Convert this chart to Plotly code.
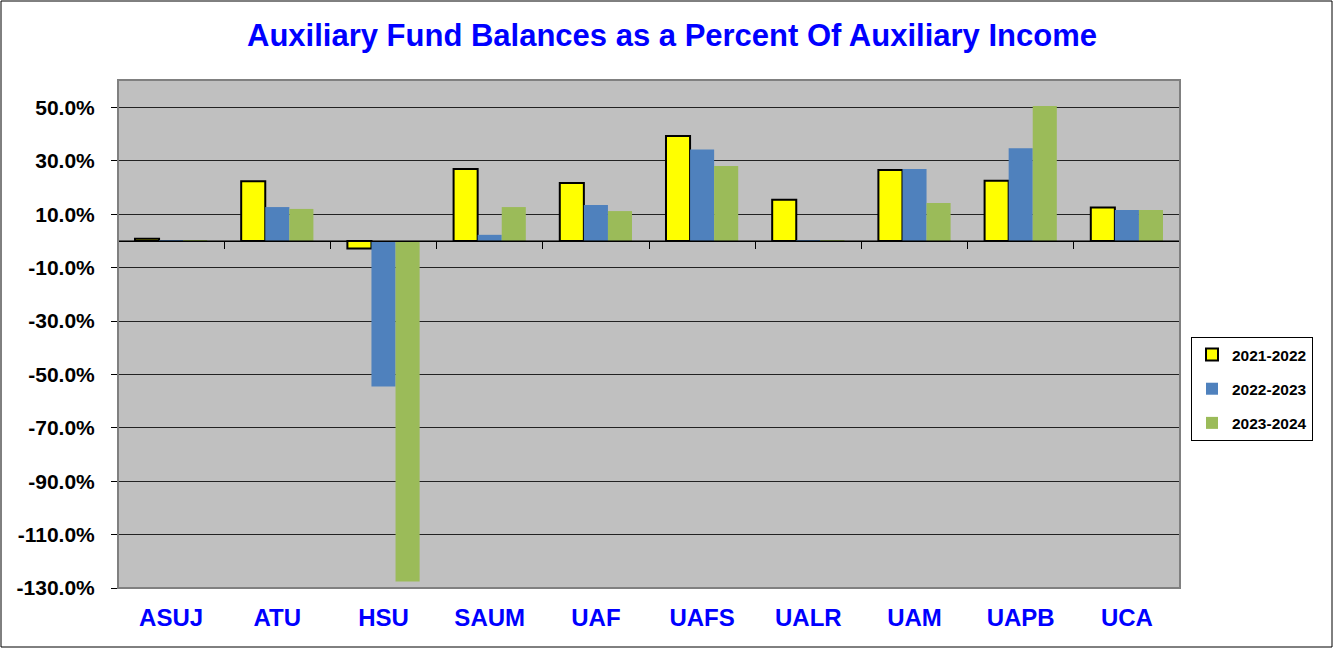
import plotly.graph_objects as go

categories = ["ASUJ", "ATU", "HSU", "SAUM", "UAF", "UAFS", "UALR", "UAM", "UAPB", "UCA"]
fy2122 = [0.8, 22.4, -2.8, 27.0, 21.7, 39.3, 15.4, 26.6, 22.6, 12.5]
fy2223 = [0.3, 12.7, -54.5, 2.3, 13.5, 34.3, 0.3, 27.0, 34.7, 11.6]
fy2324 = [0.1, 12.0, -127.6, 12.7, 11.2, 28.1, 0.2, 14.2, 50.6, 11.6]
series_names = ["2021-2022", "2022-2023", "2023-2024"]
tick_values = [50, 30, 10, -10, -30, -50, -70, -90, -110, -130]
tick_labels = [f"{v:.1f}%" for v in tick_values]

FONT = "Arial, 'Liberation Sans', sans-serif"
W, H = 1337, 648
L, R, T, B = 118, 157, 80, 60
pw, ph = W - L - R, H - T - B

fig = go.Figure()
fig.add_bar(x=categories, y=fy2122, name=series_names[0], legendgroup="a",
            marker=dict(color="#FFFF00", line=dict(color="black", width=2)))
fig.add_bar(x=categories, y=fy2223, name=series_names[1], legendgroup="b",
            marker=dict(color="#4F81BD", line=dict(width=0)))
fig.add_bar(x=categories, y=fy2324, name=series_names[2], legendgroup="c",
            marker=dict(color="#9BBB59", line=dict(width=0)))

# helper trace for the category axis crossing at zero
fig.add_scatter(x=[-0.5, len(categories) - 0.5], y=[0, 0], xaxis="x2", mode="lines",
                line=dict(color="black", width=1), showlegend=False, hoverinfo="skip")

ymin, ymax = -130, 60.3
fig.update_layout(
    width=W, height=H,
    margin=dict(l=L, r=R, t=T, b=B),
    paper_bgcolor="white",
    plot_bgcolor="#C0C0C0",
    barmode="group",
    bargap=0.32,
    bargroupgap=0,
    title=dict(text="<b>Auxiliary Fund Balances as a Percent Of Auxiliary Income</b>",
               x=(672 - L) / pw, xref="paper", xanchor="center", y=1 - 35 / H, yanchor="middle",
               font=dict(family=FONT, size=31, color="#0000FF")),
    font=dict(family=FONT),
    xaxis=dict(type="category", showgrid=False, showline=False, ticks="",
               tickfont=dict(family=FONT, size=24, color="#0000FF", weight="bold"),
               ticklabelstandoff=13),
    xaxis2=dict(overlaying="x", anchor="free", position=(0 - ymin) / (ymax - ymin),
                range=[-0.5, len(categories) - 0.5], showgrid=False, zeroline=False,
                showline=True, linecolor="black", linewidth=1,
                ticks="outside", ticklen=7, tickcolor="black", tickwidth=1,
                tickmode="linear", tick0=-0.5, dtick=1, showticklabels=False),
    yaxis=dict(range=[ymin, ymax], tickvals=tick_values, ticktext=tick_labels,
               showgrid=True, gridcolor="#222222", gridwidth=1, zeroline=False,
               showline=True, linecolor="black", linewidth=1,
               ticks="outside", ticklen=6, tickcolor="black",
               tickfont=dict(family=FONT, size=21, color="black", weight="bold"),
               ticklabelstandoff=12),
    legend=dict(x=(1191 - L) / pw, y=(H - B - 337) / ph, xanchor="left", yanchor="top",
                bgcolor="white", bordercolor="black", borderwidth=1,
                font=dict(family=FONT, size=15.5, color="black", weight="bold"),
                tracegroupgap=11, itemwidth=30),
    showlegend=True,
    shapes=[
        dict(type="rect", xref="paper", yref="paper", x0=0, x1=1, y0=0, y1=1,
             line=dict(color="#808080", width=2), fillcolor="rgba(0,0,0,0)", layer="above"),
        dict(type="rect", xref="paper", yref="paper",
             x0=-(L - 1) / pw, x1=(W - L - 5) / pw, y0=-(B - 1) / ph, y1=(H - B - 1) / ph,
             line=dict(color="black", width=1), fillcolor="rgba(0,0,0,0)"),
    ],
)

fig.write_html("out.html", config={"displayModeBar": False},
               post_script="document.body.style.margin='0';document.body.style.padding='0';")
